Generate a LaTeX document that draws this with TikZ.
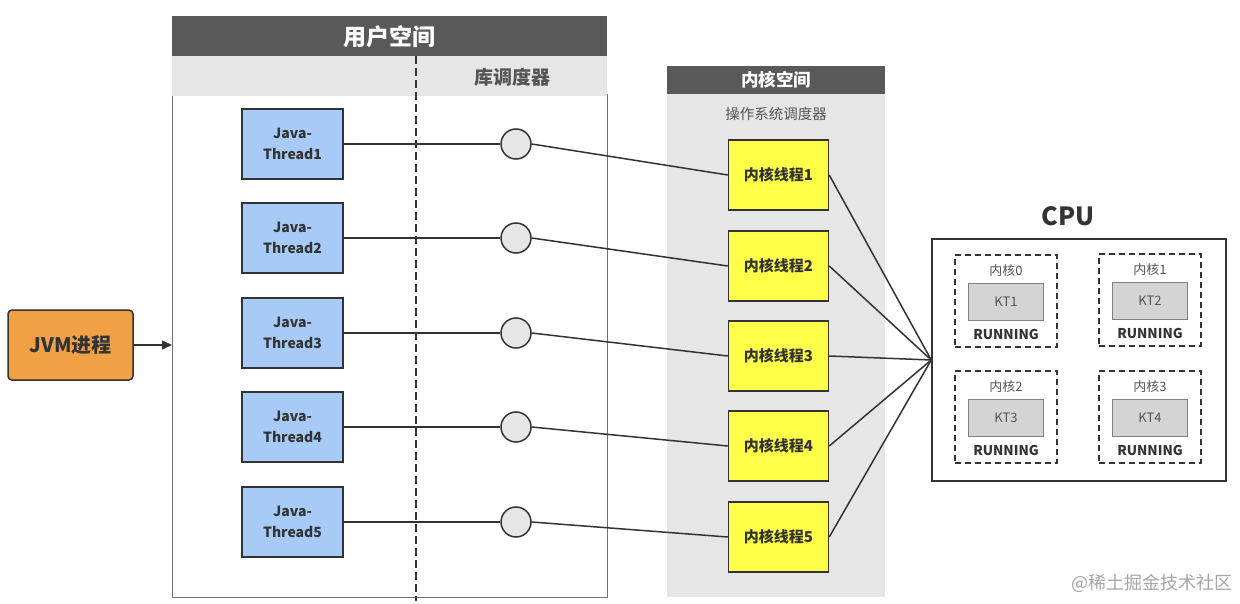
\documentclass[tikz,border=0pt]{standalone}
\usepackage{fontspec}
\setmainfont{Noto Sans CJK SC}
\usetikzlibrary{arrows.meta}
\definecolor{hdr}{HTML}{595959}
\definecolor{band}{HTML}{E6E6E6}
\definecolor{jblue}{HTML}{A7CBF6}
\definecolor{kyel}{HTML}{FFFF4A}
\definecolor{jorange}{HTML}{F0A045}
\definecolor{ktgray}{HTML}{D4D4D4}
\definecolor{txt}{HTML}{333333}
\definecolor{ltxt}{HTML}{555555}
\begin{document}
\begin{tikzpicture}[x=1pt,y=-1pt,
  jthread/.style={draw=txt,line width=1.5pt,fill=jblue,minimum width=101pt,minimum height=70pt,inner sep=0pt,align=center,text=txt,font=\fontsize{14}{21}\selectfont\bfseries},
  kthread/.style={draw=txt,line width=1.5pt,fill=kyel,minimum width=100pt,minimum height=70pt,inner sep=0pt,text=txt,font=\fontsize{15}{18}\selectfont\bfseries},
  lsched/.style={draw=txt,line width=1.5pt,fill=band,circle,minimum size=30pt,inner sep=0pt},
  conn/.style={draw=txt,line width=1.5pt},
  coredash/.style={draw=txt,line width=1.5pt,dash pattern=on 6pt off 4pt},
  ktbox/.style={draw=gray,line width=1pt,fill=ktgray,minimum width=75pt,minimum height=37pt,inner sep=0pt,text=ltxt,font=\fontsize{13}{15}\selectfont},
  corelab/.style={text=ltxt,font=\fontsize{13}{15}\selectfont,inner sep=0pt},
  runlab/.style={text=txt,font=\fontsize{13.5}{15}\selectfont\bfseries,inner sep=0pt}
]
\useasboundingbox (0,0) rectangle (1240,604);
\fill[white] (0,0) rectangle (1240,604);

% user space
\fill[hdr] (172,16) rectangle (607,56);
\fill[band] (172,56) rectangle (607,96);
\draw[gray!90!black,line width=1pt] (172,96) -- (172,597) -- (607,597) -- (607,94);
\node[text=white,font=\fontsize{23}{26}\selectfont\bfseries] (ushdr) at (389.5,37) {用户空间};
\node[text=ltxt,font=\fontsize{19}{22}\selectfont\bfseries] (libs) at (512,77) {库调度器};
\coordinate (dtop) at (416,56);
\coordinate (dbot) at (416,601);
\draw[txt,line width=2pt,dash pattern=on 8pt off 4pt] (dtop) -- (dbot);

% kernel space
\fill[band] (667,94) rectangle (885,597);
\fill[hdr] (667,66) rectangle (885,94);
\node[text=white,font=\fontsize{17.5}{20}\selectfont\bfseries] (kshdr) at (776,80) {内核空间};
\node[text=ltxt,font=\fontsize{14.5}{17}\selectfont] (oss) at (776,114) {操作系统调度器};

% JVM
\node[draw=txt,line width=1.5pt,fill=jorange,rounded corners=4pt,minimum width=125pt,minimum height=70pt,inner sep=0pt,text=txt,font=\fontsize{20}{24}\selectfont\bfseries] (jvm) at (70.5,345) {JVM进程};
\coordinate (uin) at (172,345);
\draw[conn,-{Triangle[length=10pt,width=9pt]}] (jvm.east) -- (uin);

% threads
\foreach \i/\jy/\ky in {1/144/175,2/238/266,3/333/356,4/427/446,5/522/537}{
  \node[jthread] (j\i) at (292.5,\jy) {Java-\\Thread\i};
  \node[lsched] (c\i) at (516,\jy) {};
  \node[kthread] (k\i) at (778.5,\ky) {内核线程\i};
  \draw[conn] (j\i.east) -- (c\i.west);
  \draw[conn] (c\i.east) -- (k\i.west);
}

% CPU
\node[text=txt,font=\fontsize{25}{28}\selectfont\bfseries] (cpulab) at (1068,216) {CPU};
\node[draw=txt,line width=1.5pt,minimum width=294pt,minimum height=242pt,inner sep=0pt] (cpu) at (1079,360) {};
\foreach \i in {1,...,5}{ \draw[conn] (k\i.east) -- (cpu.west); }

\foreach \n/\cx/\cy/\kt in {0/955/255/1,1/1099/254/2,2/955/371/3,3/1099/371/4}{
  \node[coredash,minimum width=102pt,minimum height=92pt,inner sep=0pt] (core\n) at (\cx+51,\cy+46) {};
  \node[corelab] (cl\n) at (\cx+51,\cy+16) {内核\n};
  \node[ktbox] (kt\n) at (\cx+51,\cy+47) {KT\kt};
  \node[runlab] (rl\n) at (\cx+51,\cy+79) {RUNNING};
}

% watermark
\node[text=gray!70,font=\fontsize{18}{20}\selectfont,anchor=east,inner sep=0pt] (wm) at (1233,583) {@稀土掘金技术社区};
\end{tikzpicture}
\end{document}
